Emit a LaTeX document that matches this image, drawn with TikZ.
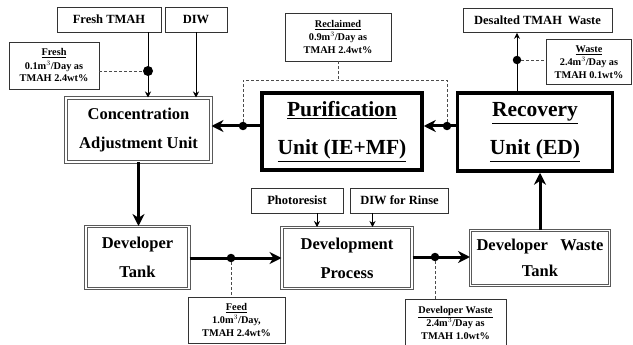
\documentclass[tikz,border=0pt]{standalone}
\usepackage{fontspec}
\setmainfont{Liberation Serif}
\usetikzlibrary{arrows.meta,positioning,calc}
\tikzset{
  inbox/.style={draw=black!80,line width=0.7pt,inner sep=2pt,align=center,font=\fontsize{12.5}{14}\selectfont\bfseries},
  note/.style={draw=black!80,line width=0.7pt,inner sep=1pt,align=center,font=\fontsize{10.3}{13}\selectfont\bfseries},
  tank/.style={draw=black!65,double,double distance=1.1pt,line width=1pt,align=center,font=\fontsize{16.5}{29}\selectfont\bfseries},
  unit/.style={draw=black,line width=3.5pt,align=center,font=\fontsize{21.5}{38}\selectfont\bfseries},
  flow/.style={-{Stealth[length=12pt,width=12pt]},line width=3pt},
  feed/.style={-{Stealth[length=6pt,width=6pt]},line width=0.8pt},
  tap/.style={densely dashed,line width=0.6pt,black!70},
  dot/.style={circle,fill=black,inner sep=0pt,minimum size=8.5pt},
}
\begin{document}
\begin{tikzpicture}[x=1pt,y=-1pt]
\useasboundingbox (0,0) rectangle (633,345);
% input boxes
\node[inbox, minimum width=104pt, minimum height=25pt] (freshtmah) at (109,19.5) {Fresh TMAH};
\node[inbox, minimum width=62pt, minimum height=25pt] (diw) at (196,19.5) {DIW};
\node[inbox, minimum width=149pt, minimum height=24pt] (desalted) at (537.5,20.5) {Desalted TMAH\ \ Waste};
\node[inbox, minimum width=92pt, minimum height=25pt] (photo) at (297,200.5) {Photoresist};
\node[inbox, minimum width=98pt, minimum height=25pt] (diwr) at (399.5,200.5) {DIW for Rinse};
% notes
\node[note, minimum width=90pt, minimum height=47pt] (freshnote) at (54,65.5) {\underline{Fresh}\\0.1m$^3$/Day as\\TMAH 2.4wt\%};
\node[note, minimum width=106pt, minimum height=48pt] (reclaimed) at (338,37) {\underline{Reclaimed}\\0.9m$^3$/Day as\\TMAH 2.4wt\%};
\node[note, minimum width=85pt, minimum height=45pt] (wastenote) at (589,62) {\underline{Waste}\\2.4m$^3$/Day as\\TMAH 0.1wt\%};
\node[note, minimum width=97pt, minimum height=46pt] (feednote) at (236.5,320) {\underline{Feed}\\1.0m$^3$/Day,\\TMAH 2.4wt\%};
\node[note, minimum width=101pt, minimum height=48pt] (devwaste) at (455.5,323) {\underline{Developer Waste}\\2.4m$^3$/Day as\\TMAH 1.0wt\%};
% units and tanks
\node[tank, minimum width=145pt, minimum height=64pt] (conc) at (138.5,130) {Concentration\\Adjustment Unit};
\node[unit, minimum width=160pt, minimum height=77pt] (purif) at (342,131.5) {\underline{Purification}\\\underline{Unit (IE+MF)}};
\node[unit, minimum width=155pt, minimum height=78pt] (recov) at (535,132) {\underline{Recovery}\\\underline{Unit (ED)}};
\node[tank, minimum width=103pt, minimum height=62pt] (devtank) at (137.5,257.5) {Developer\\Tank};
\node[tank, minimum width=130pt, minimum height=61pt] (devproc) at (347,258) {Development\\Process};
\node[tank, minimum width=139pt, minimum height=55pt] (wastetank) at (540,258) {Developer\ \ \ Waste\\[-3pt]Tank};
% branch points
\node[dot, minimum size=10pt] (dotf) at (148,71) {};
\node[dot] (dotp) at (243,126) {};
\node[dot] (dotr) at (447,126) {};
\node[dot] (dotw) at (517,60) {};
\node[dot] (dotd) at (231,258) {};
\node[dot] (dotv) at (435,257) {};
\coordinate (jr) at (reclaimed.south |- 0,80);
% thin feeds
\draw[feed] (freshtmah.south -| dotf) -- (conc.north -| dotf);
\draw[feed] (diw.south) -- (diw.south |- conc.north);
\draw[feed] ([xshift=20pt]photo.south) -- ([xshift=20pt]photo.south |- devproc.north);
\draw[feed] ([xshift=-27pt]diwr.south) -- ([xshift=-27pt]diwr.south |- devproc.north);
\draw[feed] (recov.north -| dotw) -- (desalted.south -| dotw);
% main flow
\draw[flow] (purif.west |- dotp) -- (conc.east |- dotp);
\draw[flow] (recov.west |- dotr) -- (purif.east |- dotr);
\draw[flow] (conc.south) -- (conc.south |- devtank.north);
\draw[flow] (devtank.east |- dotd) -- (devproc.west |- dotd);
\draw[flow] (devproc.east |- dotv) -- (wastetank.west |- dotv);
\draw[flow] (wastetank.north) -- (wastetank.north |- recov.south);
% sampling taps
\draw[tap] (freshnote.east |- dotf) -- (dotf);
\draw[tap] (reclaimed.south) -- (jr);
\draw[tap] (dotp) |- (jr) -| (dotr);
\draw[tap] (dotw) -- (wastenote.west |- dotw);
\draw[tap] (dotd) -- (dotd |- feednote.north);
\draw[tap] (dotv) -- (dotv |- devwaste.north);
\end{tikzpicture}
\end{document}
